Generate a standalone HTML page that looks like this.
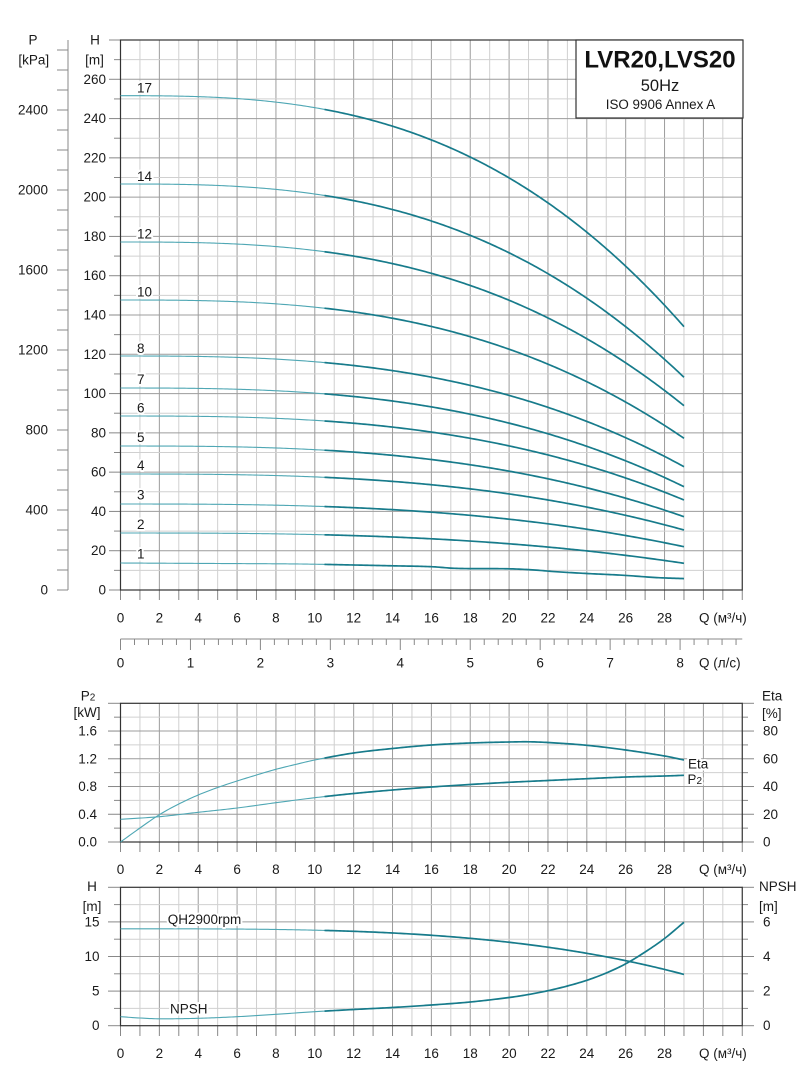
<!DOCTYPE html>
<html><head><meta charset="utf-8">
<style>
html,body{margin:0;padding:0;background:#fff;}
svg{display:block;font-family:"Liberation Sans",Arial,sans-serif;}
text{fill:#1a1a1a;font-size:13.5px;dominant-baseline:central;}
.e{text-anchor:end;}
.c{text-anchor:middle;}
.h{stroke:#fff;stroke-width:4px;paint-order:stroke;stroke-linejoin:round;}
</style></head><body>
<svg id="s" width="812" height="1092" viewBox="0 0 812 1092" xmlns="http://www.w3.org/2000/svg">
<g id="geo"></g>
<g id="txt">
<text class="c" x="33" y="40">P</text>
<text class="c" x="33.8" y="60">[kPa]</text>
<text class="c" x="95" y="40">H</text>
<text class="c" x="94.5" y="60">[m]</text>
<text class="e" x="48" y="590">0</text>
<text class="e" x="48" y="510">400</text>
<text class="e" x="48" y="430">800</text>
<text class="e" x="48" y="350">1200</text>
<text class="e" x="48" y="270">1600</text>
<text class="e" x="48" y="190">2000</text>
<text class="e" x="48" y="110">2400</text>
<text class="e" x="106" y="590">0</text>
<text class="e" x="106" y="550.7">20</text>
<text class="e" x="106" y="511.4">40</text>
<text class="e" x="106" y="472.1">60</text>
<text class="e" x="106" y="432.9">80</text>
<text class="e" x="106" y="393.6">100</text>
<text class="e" x="106" y="354.3">120</text>
<text class="e" x="106" y="315">140</text>
<text class="e" x="106" y="275.7">160</text>
<text class="e" x="106" y="236.4">180</text>
<text class="e" x="106" y="197.1">200</text>
<text class="e" x="106" y="157.9">220</text>
<text class="e" x="106" y="118.6">240</text>
<text class="e" x="106" y="79.3">260</text>
<g>
<text class="c" x="120.5" y="618">0</text>
<text class="c" x="159.36" y="618">2</text>
<text class="c" x="198.22" y="618">4</text>
<text class="c" x="237.08" y="618">6</text>
<text class="c" x="275.94" y="618">8</text>
<text class="c" x="314.8" y="618">10</text>
<text class="c" x="353.66" y="618">12</text>
<text class="c" x="392.52" y="618">14</text>
<text class="c" x="431.38" y="618">16</text>
<text class="c" x="470.24" y="618">18</text>
<text class="c" x="509.1" y="618">20</text>
<text class="c" x="547.96" y="618">22</text>
<text class="c" x="586.82" y="618">24</text>
<text class="c" x="625.68" y="618">26</text>
<text class="c" x="664.54" y="618">28</text>
<text x="699" y="618">Q (м³/ч)</text>
</g>
<text class="c" x="120.5" y="663">0</text>
<text class="c" x="190.45" y="663">1</text>
<text class="c" x="260.4" y="663">2</text>
<text class="c" x="330.34" y="663">3</text>
<text class="c" x="400.29" y="663">4</text>
<text class="c" x="470.24" y="663">5</text>
<text class="c" x="540.19" y="663">6</text>
<text class="c" x="610.14" y="663">7</text>
<text class="c" x="680.08" y="663">8</text>
<text x="699" y="663">Q (л/с)</text>
<text class="h" x="137" y="88">17</text>
<text class="h" x="137" y="176.5">14</text>
<text class="h" x="137" y="234">12</text>
<text class="h" x="137" y="292">10</text>
<text class="h" x="137" y="348.5">8</text>
<text class="h" x="137" y="379.5">7</text>
<text class="h" x="137" y="408">6</text>
<text class="h" x="137" y="437.3">5</text>
<text class="h" x="137" y="465.7">4</text>
<text class="h" x="137" y="495">3</text>
<text class="h" x="137" y="524.5">2</text>
<text class="h" x="137" y="554">1</text>
<text class="c" x="88" y="696">P<tspan font-size="10" dy="1.5">2</tspan></text>
<text class="c" x="87" y="712.5">[kW]</text>
<text class="e" x="97" y="842">0.0</text>
<text class="e" x="97" y="814.26">0.4</text>
<text class="e" x="97" y="786.52">0.8</text>
<text class="e" x="97" y="758.78">1.2</text>
<text class="e" x="97" y="731.04">1.6</text>
<text x="762" y="696">Eta</text>
<text x="762" y="713.5">[%]</text>
<text x="763" y="842">0</text>
<text x="763" y="814.26">20</text>
<text x="763" y="786.52">40</text>
<text x="763" y="758.78">60</text>
<text x="763" y="731.04">80</text>
<text class="h" x="688" y="764">Eta</text>
<text class="h" x="687.5" y="779.5">P<tspan font-size="10" dy="1.5">2</tspan></text>
<g>
<text class="c" x="120.5" y="869.3">0</text>
<text class="c" x="159.36" y="869.3">2</text>
<text class="c" x="198.22" y="869.3">4</text>
<text class="c" x="237.08" y="869.3">6</text>
<text class="c" x="275.94" y="869.3">8</text>
<text class="c" x="314.8" y="869.3">10</text>
<text class="c" x="353.66" y="869.3">12</text>
<text class="c" x="392.52" y="869.3">14</text>
<text class="c" x="431.38" y="869.3">16</text>
<text class="c" x="470.24" y="869.3">18</text>
<text class="c" x="509.1" y="869.3">20</text>
<text class="c" x="547.96" y="869.3">22</text>
<text class="c" x="586.82" y="869.3">24</text>
<text class="c" x="625.68" y="869.3">26</text>
<text class="c" x="664.54" y="869.3">28</text>
<text x="699" y="869.3">Q (м³/ч)</text>
</g>
<text class="c" x="92" y="886.7">H</text>
<text class="c" x="92" y="906.7">[m]</text>
<text class="e" x="99.5" y="1025.7">0</text>
<text class="e" x="99.5" y="991.1">5</text>
<text class="e" x="99.5" y="956.5">10</text>
<text class="e" x="99.5" y="921.9">15</text>
<text x="759" y="886.7">NPSH</text>
<text x="759" y="906.7">[m]</text>
<text x="763" y="1025.7">0</text>
<text x="763" y="991.1">2</text>
<text x="763" y="956.5">4</text>
<text x="763" y="921.9">6</text>
<text class="h" x="167.7" y="919.3">QH2900rpm</text>
<text class="h" x="170" y="1009">NPSH</text>
<g>
<text class="c" x="120.5" y="1053.3">0</text>
<text class="c" x="159.36" y="1053.3">2</text>
<text class="c" x="198.22" y="1053.3">4</text>
<text class="c" x="237.08" y="1053.3">6</text>
<text class="c" x="275.94" y="1053.3">8</text>
<text class="c" x="314.8" y="1053.3">10</text>
<text class="c" x="353.66" y="1053.3">12</text>
<text class="c" x="392.52" y="1053.3">14</text>
<text class="c" x="431.38" y="1053.3">16</text>
<text class="c" x="470.24" y="1053.3">18</text>
<text class="c" x="509.1" y="1053.3">20</text>
<text class="c" x="547.96" y="1053.3">22</text>
<text class="c" x="586.82" y="1053.3">24</text>
<text class="c" x="625.68" y="1053.3">26</text>
<text class="c" x="664.54" y="1053.3">28</text>
<text x="699" y="1053.3">Q (м³/ч)</text>
</g>
<text class="c" x="660" y="60" style="font-size:24px;font-weight:bold;fill:#111">LVR20,LVS20</text>
<text class="c" x="660" y="86" style="font-size:16.5px">50Hz</text>
<text class="c" x="660.5" y="104.7" style="font-size:13.4px">ISO 9906 Annex A</text>
</g>
</svg>
<script>
(function(){
const NS='http://www.w3.org/2000/svg';
const G=document.getElementById('geo');
function el(n,a){const e=document.createElementNS(NS,n);for(const k in a)e.setAttribute(k,a[k]);G.appendChild(e);return e;}
function L(x1,y1,x2,y2,c,w){el('line',{x1:x1,y1:y1,x2:x2,y2:y2,stroke:c,'stroke-width':w||1});}
const DK='#9c9c9c', LT='#d0d0d0', AX='#333', TK='#888';
const X=q=>120.5+q*19.43;
const X0=X(0), XR=X(32);

/* top chart */
const T0=40,T1=590;
for(let q=1;q<32;q++)L(X(q),T0,X(q),T1,q%2?LT:DK);
for(let h=0;h<=280;h+=10){const y=T1-h*550/280;
  if(h>0&&h<280)L(X0,y,XR,y,h%20?LT:DK);
  L(h%20?114:109,y,X0,y,TK);}
for(let q=0;q<=32;q++)L(X(q),T1,X(q),600,TK);
el('rect',{x:X0,y:T0,width:XR-X0,height:T1-T0,fill:'none',stroke:AX,'stroke-width':1.2});
L(68,40,68,590,TK);
for(let p=0;p<=2700;p+=100){const y=590-p*0.2;L(57,y,68,y,TK);}
L(X0,639,XR,639,TK);
for(let j=0;j<=44;j++){const x=X(j*0.72);L(x,639,x,j%5?645:650,TK);}
el('rect',{x:576,y:40,width:167,height:78,fill:'#fff',stroke:AX,'stroke-width':1.2});

/* middle chart */
const M0=703.3,M1=842;
for(let q=1;q<32;q++)L(X(q),M0,X(q),M1,q%2?LT:DK);
for(let k=0;k<=10;k++){const y=M1-k*(M1-M0)/10;
  if(k>0&&k<10)L(X0,y,XR,y,k%2?LT:DK);
  L(k%2?114:108,y,X0,y,TK);L(XR,y,k%2?748:754,y,TK);}
for(let q=0;q<=32;q++)L(X(q),M1,X(q),852,TK);
el('rect',{x:X0,y:M0,width:XR-X0,height:M1-M0,fill:'none',stroke:AX,'stroke-width':1.2});

/* bottom chart */
const B0=887.3,B1=1025.7;
for(let q=1;q<32;q++)L(X(q),B0,X(q),B1,q%2?LT:DK);
for(let k=0;k<=8;k++){const y=B1-k*(B1-B0)/8;
  if(k>0&&k<8)L(X0,y,XR,y,k%2?LT:DK);
  L(k%2?114:108,y,X0,y,TK);L(XR,y,k%2?748:754,y,TK);}
for(let q=0;q<=32;q++)L(X(q),B1,X(q),1036,TK);
el('rect',{x:X0,y:B0,width:XR-X0,height:B1-B0,fill:'none',stroke:AX,'stroke-width':1.2});

/* curves */
function herm(xs,ys){const n=xs.length,m=[];
  for(let i=0;i<n;i++){
    if(i==0)m[i]=(ys[1]-ys[0])/(xs[1]-xs[0]);
    else if(i==n-1)m[i]=(ys[n-1]-ys[n-2])/(xs[n-1]-xs[n-2]);
    else m[i]=(ys[i+1]-ys[i-1])/(xs[i+1]-xs[i-1]);}
  return q=>{let i=0;while(i<n-2&&q>xs[i+1])i++;
    const h=xs[i+1]-xs[i],t=(q-xs[i])/h,t2=t*t,t3=t2*t;
    return (2*t3-3*t2+1)*ys[i]+(t3-2*t2+t)*h*m[i]+(-2*t3+3*t2)*ys[i+1]+(t3-t2)*h*m[i+1];};}
function draw(fy){
  const a=[],b=[];
  for(let i=0;i<=105;i++){const q=i/10;a.push(X(q).toFixed(2)+','+fy(q).toFixed(2));}
  for(let i=105;i<=290;i++){const q=i/10;b.push(X(q).toFixed(2)+','+fy(q).toFixed(2));}
  el('polyline',{points:a.join(' '),fill:'none',stroke:'#4fa7b4','stroke-width':1.1,'stroke-linejoin':'round'});
  el('polyline',{points:b.join(' '),fill:'none',stroke:'#177b8b','stroke-width':1.7,'stroke-linejoin':'round'});
}
const C=[[95.7,326.7],[184,377.3],[242,405.7],[300,438.3],[356,466.7],[388,486.7],[416,500],[446,516.7],[474,530],[504,546.7],[533,563.3]];
C.forEach(c=>{const d0=590-c[0],de=590-c[1],r=de/d0;
  draw(q=>590-d0*(1-(1-r)*Math.pow(q/29,2.78)));});
draw(herm([0,5,9.24,12,14,16,17.3,20,21.3,22.4,24,25.9,27.6,29],
          [563,563.5,564,565,565.8,566.7,568.4,568.8,570,571.7,573.5,575.3,577.6,578.6]));
/* Eta */
draw(herm([0,1,2,3,4,5,6,7,8,9,10,12,14,16,18,20,21,22,24,26,28,29],
          [842,828,814.7,804,795,787.5,781,775,769.3,764.5,760,753,748.5,745,743,742,741.8,742.5,745.3,750,756,760]));
/* P2 */
draw(herm([0,2,4,6,8,10,12,14,16,18,20,22,24,26,28,29],
          [819.3,816.7,812.3,808,802.7,797.7,793.5,790,787,784.5,782.3,780.5,778.7,777,776,775.3]));
/* QH */
draw(q=>928.8+45.6*Math.pow(q/29,3.28));
/* NPSH */
draw(herm([0,1,2,4,6,8,10,12,14,16,18,20,21,22,23,24,25,26,27,28,29],
          [1016.7,1018,1018.8,1018.3,1016.7,1014.3,1011.7,1009.5,1007.5,1005,1002,997.5,994.5,990.7,986,980.3,973,963.8,952,938.5,922.3]));
})();
</script>
</body></html>
